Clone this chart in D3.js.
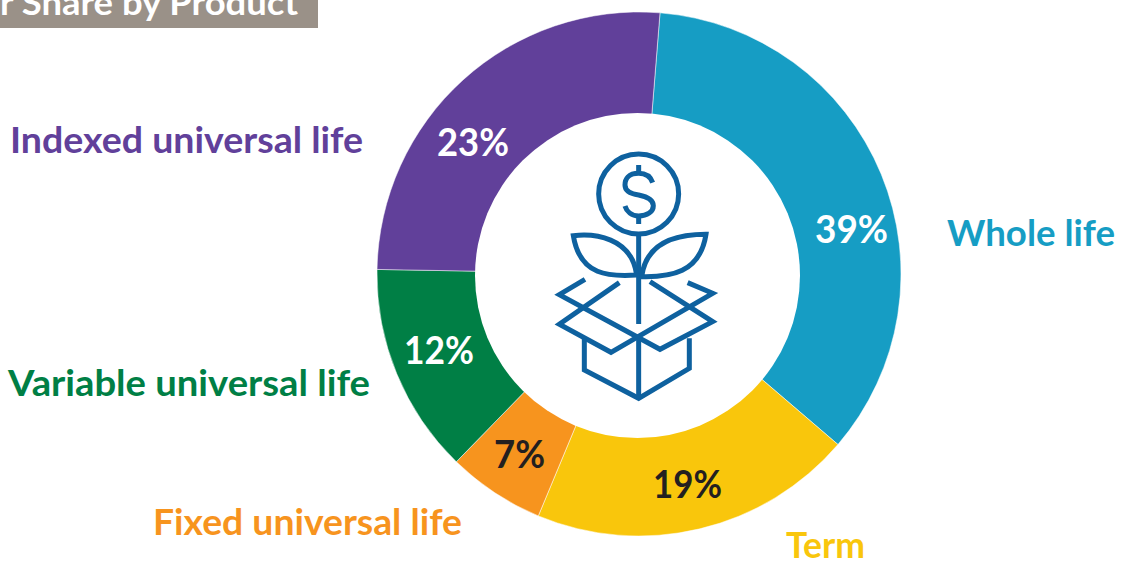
<!DOCTYPE html>
<html>
<head>
<meta charset="utf-8">
<style>
  body { margin: 0; background: #fff; }
  svg { display: block; }
  text { font-family: Lato, "Open Sans", sans-serif; font-weight: 700; }
</style>
<script src="https://cdn.jsdelivr.net/npm/d3@7"></script>
</head>
<body>
<svg id="chart" width="1126" height="566"></svg>
<script>
const products = ['Whole life', 'Term', 'Fixed universal life', 'Variable universal life', 'Indexed universal life'];
const printed = ['39%', '19%', '7%', '12%', '23%'];
// slice sizes as drawn in the picture, they don't follow the printed numbers exactly
const drawnShare = [35, 20, 6, 13, 26];
const colors = ['#169dc4', '#f9c60c', '#f7941e', '#007f45', '#61409a'];
const pctColors = ['#fff', '#231f20', '#231f20', '#fff', '#fff'];

const titleText = 'r Share by Product';

const cx = 639, cy = 274, outer = 262;
// the hole sits a little off the ring's centre in the picture
const holeX = 637.5, holeY = 275.5, holeR = 162.5;

// [left, right, baseline] of each text
const nameBoxes = [[947, 1115, 246], [786, 865, 558], [153, 462, 535], [8, 370, 396], [10, 363, 153]];
const pctBoxes = [[815, 888, 243], [653, 722, 498], [494, 545, 468], [404, 474, 364], [437, 509, 156]];

const svg = d3.select('#chart');

svg.append('rect').attr('x', 0).attr('y', 0).attr('width', 318).attr('height', 28).attr('fill', '#9a9188');
svg.append('text')
      .attr('x', 0).attr('y', 15)
      .attr('textLength', 298).attr('lengthAdjust', 'spacingAndGlyphs')
      .attr('font-size', 34).attr('fill', '#fff')
      .text(titleText);

const start = 4.6 * Math.PI / 180;
const pie = d3.pie().sort(null).startAngle(start).endAngle(start + 2 * Math.PI);
const arc = d3.arc().innerRadius(150).outerRadius(outer);

svg.append('g')
      .attr('transform', `translate(${cx},${cy})`)
      .selectAll('path')
      .data(pie(drawnShare))
      .join('path')
      .attr('d', arc)
      .attr('fill', (d, i) => colors[i])
      .attr('stroke', '#fff')
      .attr('stroke-width', 0.5);

svg.append('circle').attr('cx', holeX).attr('cy', holeY).attr('r', holeR).attr('fill', '#fff');

function addTexts(labels, boxes, size, fill) {
      svg.append('g').selectAll('text')
            .data(labels)
            .join('text')
            .attr('x', (d, i) => boxes[i][0])
            .attr('y', (d, i) => boxes[i][2])
            .attr('textLength', (d, i) => boxes[i][1] - boxes[i][0])
            .attr('lengthAdjust', 'spacingAndGlyphs')
            .attr('font-size', size)
            .attr('fill', fill)
            .text(d => d);
}

addTexts(products, nameBoxes, 37, (d, i) => colors[i]);
addTexts(printed, pctBoxes, 38, (d, i) => pctColors[i]);

// plant-in-a-box icon, traced at 3x
const icon = svg.append('g')
      .attr('transform', 'translate(540,140) scale(0.3333)')
      .attr('fill', 'none')
      .attr('stroke', '#0e619f')
      .attr('stroke-width', 15)
      .attr('stroke-linejoin', 'miter');

icon.append('circle').attr('cx', 296).attr('cy', 162).attr('r', 120);

[
      'M338,128 C330,105 310,100 296,100 C265,100 255,118 255,135 C255,155 275,162 296,165 C320,170 340,178 340,197 C340,215 322,228 296,228 C275,228 260,215 255,198',
      'M296,75 V100 M296,228 V252',
      'M296,285 V552',
      'M100,287 C160,280 275,290 290,405 C210,410 120,410 100,287 Z',
      'M498,283 C430,283 320,295 305,410 C390,412 480,400 498,283 Z',
      'M135,418 L58,464 L360,628 L518,545 L330,425',
      'M443,428 L518,460 L213,637 L58,553 L238,428',
      'M133,595 V690 L296,775 L448,685 V595',
      'M296,595 V775'
].forEach(d => icon.append('path').attr('d', d));
</script>
</body>
</html>
